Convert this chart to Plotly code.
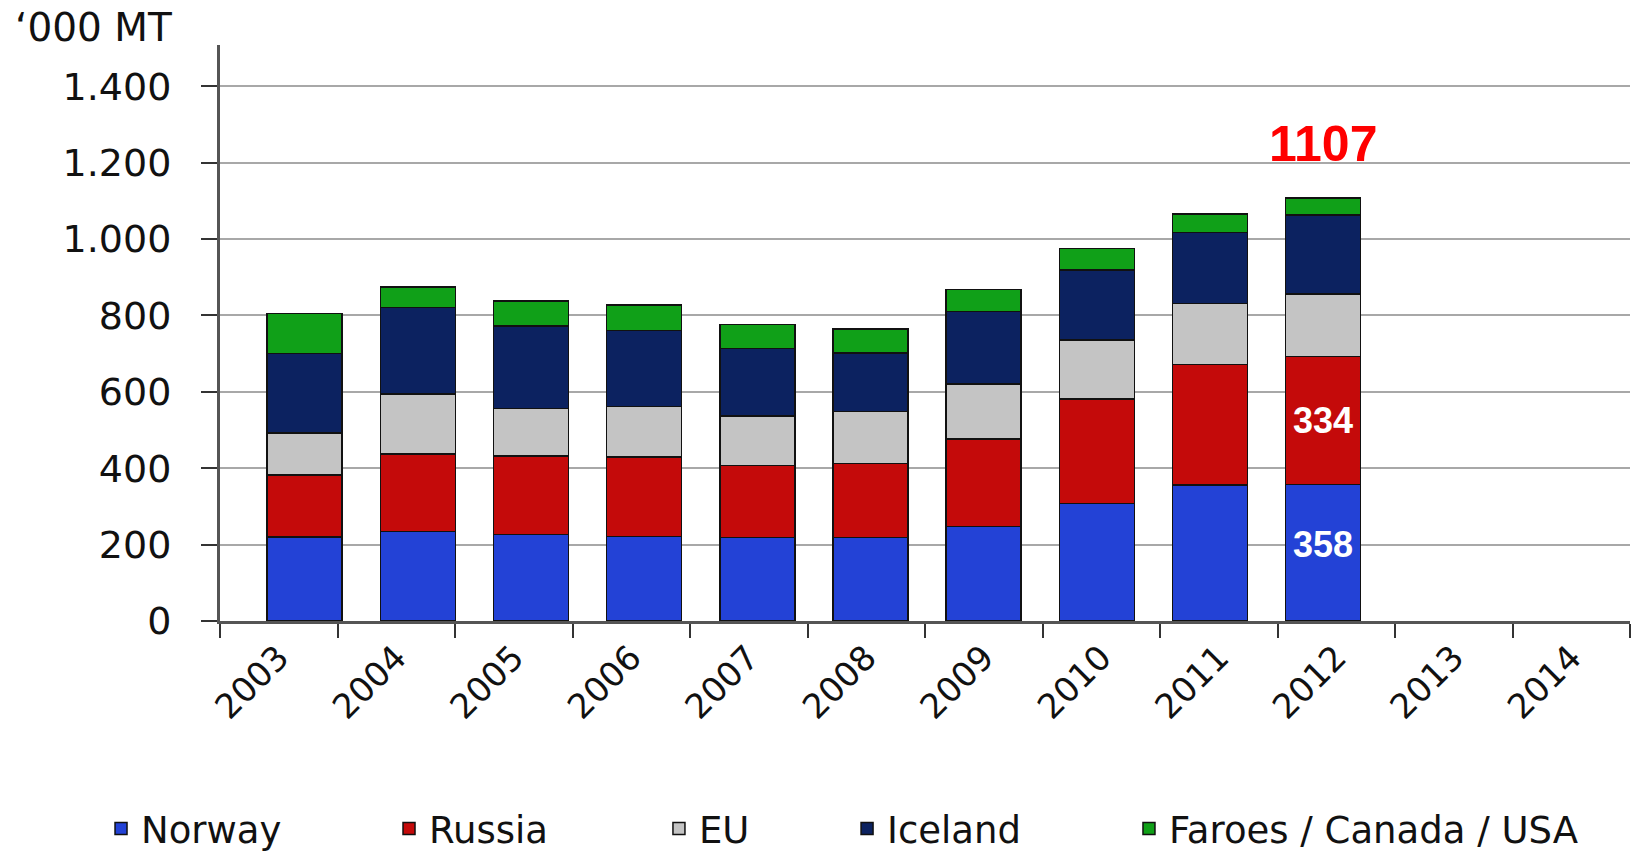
import plotly.graph_objects as go

years = ["2003", "2004", "2005", "2006", "2007", "2008", "2009", "2010", "2011", "2012", "2013", "2014"]
norway = [220, 234, 227, 221, 219, 218, 247, 307, 356, 358, None, None]
russia = [162, 203, 205, 208, 188, 194, 230, 274, 315, 334, None, None]
eu = [110, 157, 125, 132, 130, 137, 143, 155, 160, 164, None, None]
iceland = [208, 227, 215, 199, 176, 152, 190, 183, 186, 207, None, None]
faroes = [105, 54, 66, 67, 63, 63, 58, 56, 48, 44, None, None]

series_names = ["Norway", "Russia", "EU", "Iceland", "Faroes / Canada / USA"]
series_values = [norway, russia, eu, iceland, faroes]
series_colors = ["#2342d6", "#c40a0a", "#c4c4c4", "#0c2260", "#10a018"]

y_tick_vals = [0, 200, 400, 600, 800, 1000, 1200, 1400]
y_tick_text = ["0", "200", "400", "600", "800", "1.000", "1.200", "1.400"]

highlight_year = "2012"
highlight_total = 1107

FONT = "DejaVu Sans"
W, H = 1640, 854
ML, MR, MT, MB = 220, 10, 45, 233
PLOT_W = W - ML - MR
PLOT_H = H - MT - MB

# perspective styling: bars stand on a middle plane slightly narrower than the front axis
n_cat = len(years)
front_cat_px = PLOT_W / n_cat
mid_start_px = 28.0
mid_cat_px = (1606 - 248) / n_cat
BAR_WIDTH = 75.0 / front_cat_px
bar_offsets = [
    (mid_start_px + (i + 0.5) * (mid_cat_px - front_cat_px)) / front_cat_px - BAR_WIDTH / 2
    for i in range(n_cat)
]

legend_ids = ["legend", "legend2", "legend3", "legend4", "legend5"]
legend_x = [0.0616, 0.2372, 0.4018, 0.5165, 0.6884]

fig = go.Figure()
for name, vals, col, lid in zip(series_names, series_values, series_colors, legend_ids):
    fig.add_trace(go.Bar(
        x=years, y=vals, name=name,
        marker=dict(color=col, line=dict(color="#111111", width=1.5)),
        width=BAR_WIDTH, offset=bar_offsets,
        legend=lid,
    ))

layout_legends = {}
for lid, lx in zip(legend_ids, legend_x):
    layout_legends[lid] = dict(
        x=lx, y=25 / H, xref="container", yref="container",
        xanchor="left", yanchor="middle", orientation="h",
        font=dict(family=FONT, size=37, color="#111111"),
        bgcolor="rgba(0,0,0,0)", borderwidth=0,
    )

hi = years.index(highlight_year)
hx = hi + bar_offsets[hi] + BAR_WIDTH / 2
n_val = norway[hi]
r_val = russia[hi]

annotations = [
    dict(x=hx, y=highlight_total, xref="x", yref="y", text="<b>%d</b>" % highlight_total,
         showarrow=False, yanchor="bottom", yshift=24,
         font=dict(family="Liberation Sans", size=50, color="#ff0000")),
    dict(x=hx, y=n_val / 2, xref="x", yref="y", text="<b>%d</b>" % n_val,
         showarrow=False, yshift=8,
         font=dict(family="Liberation Sans", size=36, color="#ffffff")),
    dict(x=hx, y=n_val + r_val / 2, xref="x", yref="y", text="<b>%d</b>" % r_val,
         showarrow=False,
         font=dict(family="Liberation Sans", size=36, color="#ffffff")),
    dict(x=(13 - ML) / PLOT_W, y=(H - 27 - MB) / PLOT_H, xref="paper", yref="paper",
         text="‘000 MT", showarrow=False, xanchor="left", yanchor="middle",
         font=dict(family=FONT, size=39, color="#111111")),
]

fig.update_layout(
    width=W, height=H,
    barmode="stack",
    showlegend=True,
    paper_bgcolor="white", plot_bgcolor="white",
    margin=dict(l=ML, r=MR, t=MT, b=MB),
    **layout_legends,
    xaxis=dict(
        type="category", range=[-0.5, n_cat - 0.5],
        showline=True, linecolor="#555555", linewidth=3,
        ticks="outside", tickson="boundaries", ticklen=14, tickwidth=2, tickcolor="#333333",
        tickangle=-45, ticklabelstandoff=0,
        tickfont=dict(family=FONT, size=34, color="#111111"),
        showgrid=False, zeroline=False,
    ),
    yaxis=dict(
        range=[0, 1508],
        tickvals=y_tick_vals, ticktext=y_tick_text,
        showline=True, linecolor="#555555", linewidth=3,
        ticks="outside", ticklen=16, tickwidth=2, tickcolor="#333333",
        ticklabelstandoff=22,
        tickfont=dict(family=FONT, size=38, color="#111111"),
        showgrid=True, gridcolor="#a8a8a8", gridwidth=2,
        zeroline=False,
    ),
    annotations=annotations,
)

fig.write_html("out.html", config={"displayModeBar": False},
               post_script="document.body.style.margin='0';")
